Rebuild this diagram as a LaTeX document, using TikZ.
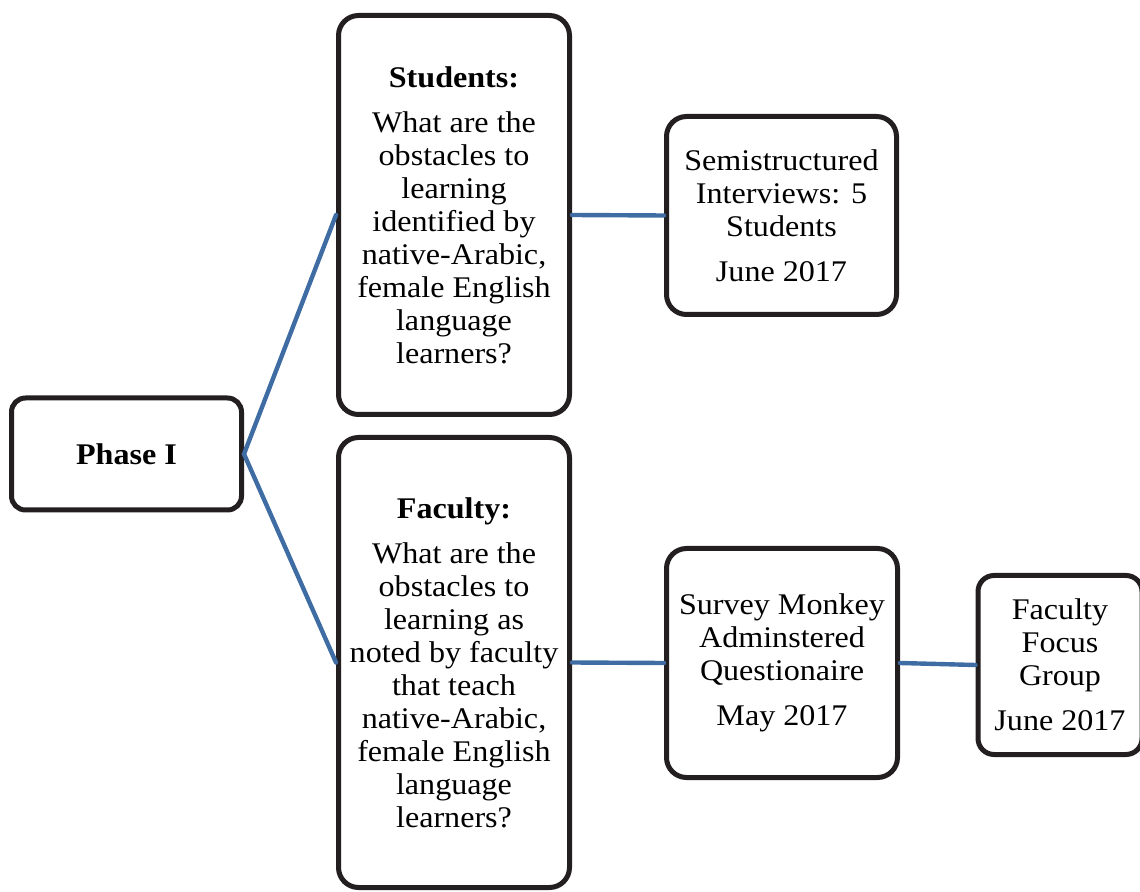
\documentclass[tikz,border=0pt]{standalone}
\usepackage{fontspec}
\setmainfont{Liberation Serif}[FakeStretch=1.07]
\usetikzlibrary{positioning}
\definecolor{azul}{RGB}{62,108,163}
\definecolor{borda}{RGB}{35,31,32}
\tikzset{%
  bloco/.style={draw=borda,line width=2.5pt,fill=white,rounded corners=10pt,align=center,inner sep=0pt,font=\fontsize{15}{16.5}\selectfont},
  blocofase/.style={bloco,rounded corners=7pt,font=\fontsize{15}{16.5}\selectfont\bfseries},
  conecta/.style={draw=azul,line width=2.2pt,line cap=round}
}

\begin{document}
\begin{tikzpicture}[x=0.5pt,y=-0.5pt]
  \useasboundingbox (0,0) rectangle (1140,892);
  \node[blocofase,minimum width=115pt,minimum height=56pt] (fase) at (126.5,454) {Phase I};
  \node[bloco,minimum width=115.5pt,minimum height=199.5pt] (alunos) at (454,215)
    {\textbf{Students:}\\[6pt]What are the\\obstacles to\\learning\\identified by\\native-Arabic,\\female English\\language\\learners?};
  \node[bloco,minimum width=115.5pt,minimum height=225pt] (docentes) at (454,662.5)
    {\textbf{Faculty:}\\[6pt]What are the\\obstacles to\\learning as\\noted by faculty\\that teach\\native-Arabic,\\female English\\language\\learners?};
  \node[bloco,minimum width=115pt,minimum height=99pt] (entrevistas) at (781.5,215.5)
    {Semistructured\\Interviews: 5\\Students\\[6pt]June 2017};
  \node[bloco,minimum width=115.5pt,minimum height=114.5pt] (questionario) at (782,663)
    {Survey Monkey\\Adminstered\\Questionaire\\[6pt]May 2017};
  \node[bloco,rounded corners=8pt,minimum width=82pt,minimum height=89.5pt] (grupo) at (1060,665)
    {Faculty\\Focus\\Group\\[6pt]June 2017};

  \draw[conecta] (fase.east) -- (alunos.west);
  \draw[conecta] (fase.east) -- (docentes.west);
  \draw[conecta] (alunos.east) -- (entrevistas.west);
  \draw[conecta] (docentes.east) -- (questionario.west);
  \draw[conecta] (questionario.east) -- (grupo.west);
\end{tikzpicture}
\end{document}
